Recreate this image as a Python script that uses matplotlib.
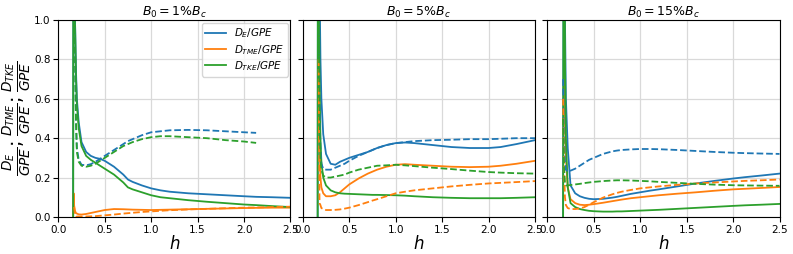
import numpy as np
import matplotlib
matplotlib.use("Agg")
import matplotlib.pyplot as plt

nan = np.nan
H = [0.16, 0.165, 0.17, 0.18, 0.19, 0.2, 0.22, 0.25, 0.3, 0.35, 0.4, 0.45, 0.5, 0.6,
     0.7, 0.75, 0.8, 0.9, 1.0, 1.1, 1.2, 1.4, 1.6, 1.8, 2.0, 2.13, 2.3, 2.5]

titles = [r"$B_0=1\%B_c$", r"$B_0=5\%B_c$", r"$B_0=15\%B_c$"]

# Panel 1: B0 = 1% Bc
p1_DE = [0, 3.0, 1.6, 1.0, 0.75, 0.6, 0.48, 0.38, 0.33, 0.31, 0.30, 0.295, 0.285, 0.255,
         0.215, 0.19, 0.178, 0.16, 0.145, 0.135, 0.128, 0.12, 0.115, 0.11, 0.105, 0.102, 0.1, 0.097]
p1_TME = [0, 0.12, 0.06, 0.03, 0.02, 0.017, 0.013, 0.012, 0.015, 0.02, 0.025, 0.03, 0.035, 0.04,
          0.039, 0.038, 0.037, 0.036, 0.035, 0.036, 0.037, 0.039, 0.041, 0.043, 0.045, 0.046, 0.047, 0.047]
p1_TKE = [0, 3.0, 1.6, 1.0, 0.72, 0.57, 0.45, 0.36, 0.31, 0.29, 0.275, 0.26, 0.245, 0.215,
          0.175, 0.15, 0.14, 0.125, 0.11, 0.1, 0.095, 0.085, 0.077, 0.07, 0.063, 0.06, 0.055, 0.05]
p1_DE_d = [nan, nan, 1.5, 0.87, 0.5, 0.35, 0.29, 0.265, 0.262, 0.268, 0.28, 0.295, 0.31, 0.34,
           0.37, 0.385, 0.395, 0.415, 0.43, 0.435, 0.44, 0.442, 0.44, 0.435, 0.43, 0.427, nan, nan]
p1_TME_d = [nan, nan, 0.05, 0.01, 0.003, 0.002, 0.002, 0.002, 0.002, 0.003, 0.004, 0.006, 0.008, 0.012,
            0.017, 0.019, 0.021, 0.025, 0.028, 0.031, 0.034, 0.038, 0.041, 0.044, 0.047, 0.048, 0.05, 0.052]
p1_TKE_d = [nan, nan, 1.5, 0.87, 0.5, 0.33, 0.28, 0.26, 0.255, 0.26, 0.27, 0.285, 0.30, 0.33,
            0.36, 0.37, 0.38, 0.395, 0.405, 0.41, 0.41, 0.405, 0.4, 0.39, 0.383, 0.376, nan, nan]

# Panel 2: B0 = 5% Bc
p2_DE = [0, 3.0, 2.0, 1.2, 0.8, 0.6, 0.42, 0.32, 0.27, 0.265, 0.28, 0.29, 0.30, 0.315,
         0.33, 0.34, 0.35, 0.365, 0.375, 0.378, 0.375, 0.365, 0.355, 0.35, 0.35, 0.355, 0.37, 0.39]
p2_TME = [nan, nan, 1.0, 0.4, 0.2, 0.15, 0.12, 0.105, 0.105, 0.11, 0.125, 0.145, 0.165, 0.195,
          0.22, 0.23, 0.24, 0.255, 0.265, 0.268, 0.265, 0.26, 0.255, 0.253, 0.255, 0.26, 0.27, 0.285]
p2_TKE = [0, 3.0, 1.5, 0.7, 0.4, 0.28, 0.2, 0.16, 0.135, 0.125, 0.12, 0.118, 0.117, 0.115,
          0.113, 0.112, 0.112, 0.111, 0.11, 0.108, 0.105, 0.1, 0.097, 0.095, 0.095, 0.095, 0.097, 0.1]
p2_DE_d = [nan, nan, 1.5, 0.6, 0.35, 0.27, 0.245, 0.24, 0.24, 0.25, 0.26, 0.27, 0.285, 0.31,
           0.33, 0.34, 0.35, 0.365, 0.375, 0.38, 0.385, 0.39, 0.392, 0.395, 0.395, 0.397, 0.4, 0.4]
p2_TME_d = [nan, nan, 0.8, 0.07, 0.06, 0.045, 0.04, 0.035, 0.035, 0.036, 0.038, 0.042, 0.047, 0.06,
            0.075, 0.083, 0.09, 0.105, 0.12, 0.128, 0.135, 0.145, 0.155, 0.163, 0.17, 0.173, 0.177, 0.182]
p2_TKE_d = [nan, nan, 1.2, 0.5, 0.3, 0.24, 0.21, 0.20, 0.20, 0.205, 0.21, 0.215, 0.225, 0.24,
            0.25, 0.255, 0.26, 0.262, 0.265, 0.262, 0.258, 0.25, 0.243, 0.235, 0.228, 0.225, 0.222, 0.22]

# Panel 3: B0 = 15% Bc
p3_DE = [nan, nan, 0, 3.0, 1.0, 0.6, 0.35, 0.16, 0.12, 0.105, 0.097, 0.092, 0.09, 0.092,
         0.098, 0.102, 0.107, 0.117, 0.125, 0.133, 0.14, 0.155, 0.17, 0.183, 0.195, 0.202, 0.21, 0.22]
p3_TME = [nan, nan, nan, 1.0, 0.5, 0.3, 0.15, 0.09, 0.07, 0.062, 0.06, 0.062, 0.065, 0.072,
          0.08, 0.084, 0.088, 0.095, 0.1, 0.105, 0.11, 0.118, 0.125, 0.133, 0.14, 0.143, 0.147, 0.152]
p3_TKE = [nan, nan, 0, 3.0, 0.8, 0.4, 0.15, 0.07, 0.05, 0.04, 0.035, 0.031, 0.029, 0.027,
          0.027, 0.028, 0.028, 0.03, 0.032, 0.034, 0.036, 0.041, 0.046, 0.051, 0.056, 0.059, 0.062, 0.066]
p3_DE_d = [nan, nan, 0.7, 0.4, 0.28, 0.24, 0.23, 0.235, 0.245, 0.26, 0.275, 0.29, 0.3, 0.32,
           0.333, 0.337, 0.34, 0.343, 0.345, 0.345, 0.344, 0.34, 0.335, 0.33, 0.326, 0.324, 0.322, 0.32]
p3_TME_d = [nan, nan, 0.6, 0.25, 0.1, 0.06, 0.045, 0.04, 0.04, 0.043, 0.05, 0.062, 0.075, 0.098,
            0.115, 0.122, 0.128, 0.137, 0.145, 0.15, 0.155, 0.163, 0.17, 0.175, 0.18, 0.183, 0.186, 0.19]
p3_TKE_d = [nan, nan, 0.5, 0.25, 0.17, 0.16, 0.16, 0.162, 0.165, 0.168, 0.172, 0.175, 0.178, 0.182,
            0.185, 0.186, 0.186, 0.185, 0.183, 0.181, 0.178, 0.173, 0.168, 0.164, 0.161, 0.16, 0.159, 0.158]

panels = [
    (p1_DE, p1_TME, p1_TKE, p1_DE_d, p1_TME_d, p1_TKE_d),
    (p2_DE, p2_TME, p2_TKE, p2_DE_d, p2_TME_d, p2_TKE_d),
    (p3_DE, p3_TME, p3_TKE, p3_DE_d, p3_TME_d, p3_TKE_d),
]
labels = [r"$D_E/GPE$", r"$D_{TME}/GPE$", r"$D_{TKE}/GPE$"]
colors = ["#1f77b4", "#ff7f0e", "#2ca02c"]

fig, axes = plt.subplots(1, 3, figsize=(7.93, 2.54), dpi=100, sharey=True)
fig.subplots_adjust(left=0.0735, right=0.983, bottom=0.146, top=0.921, wspace=0.053)

for ax, data, title in zip(axes, panels, titles):
    solids = data[:3]
    dashed = data[3:]
    for y, c, lab in zip(solids, colors, labels):
        ax.plot(H, y, color=c, lw=1.3, label=lab)
    for y, c in zip(dashed, colors):
        ax.plot(H, y, color=c, lw=1.3, ls="--")
    ax.set_xlim(0, 2.5)
    ax.set_ylim(0, 1.0)
    ax.set_xticks([0, 0.5, 1.0, 1.5, 2.0, 2.5])
    ax.set_yticks([0, 0.2, 0.4, 0.6, 0.8, 1.0])
    ax.grid(True, color="#d9d9d9", lw=0.9)
    ax.set_axisbelow(True)
    ax.tick_params(labelsize=7.5, length=3.5, pad=2)
    ax.set_title(title, fontsize=9, pad=3)
    ax.set_xlabel(r"$h$", fontsize=12, labelpad=0)

axes[0].set_ylabel(r"$\frac{D_E}{GPE};\frac{D_{TME}}{GPE};\frac{D_{TKE}}{GPE}$", fontsize=14)
axes[0].yaxis.set_label_coords(-0.108, 0.5)
axes[0].legend(loc="upper right", fontsize=7.5, handlelength=2.0, borderpad=0.35,
               labelspacing=0.25, borderaxespad=0.25, framealpha=0.8)

fig.savefig("out.png", dpi=100)
